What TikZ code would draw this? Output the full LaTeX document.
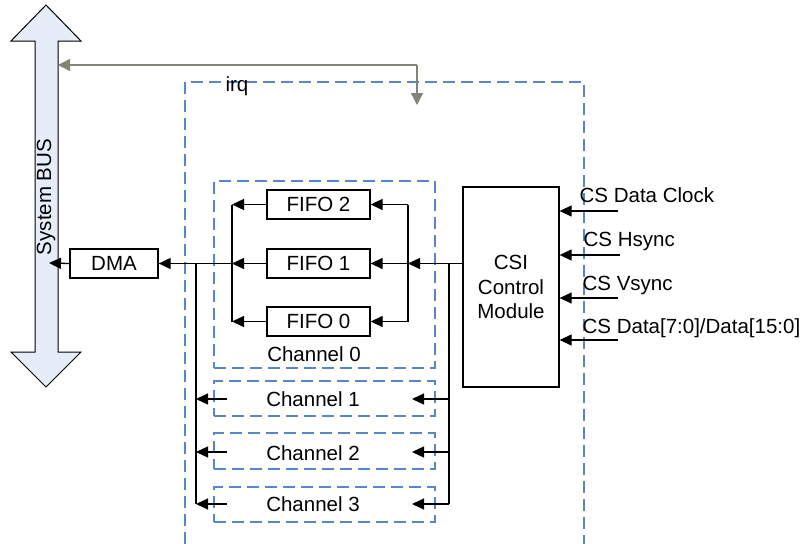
\documentclass[tikz,border=0pt]{standalone}
\usepackage{fontspec}
\setmainfont{Liberation Sans}
\usetikzlibrary{arrows.meta}
\definecolor{busfill}{HTML}{E6EDF8}
\definecolor{dashblue}{HTML}{5A86C8}
\definecolor{irqgray}{HTML}{7F8577}
\begin{document}
\begin{tikzpicture}[x=1pt,y=-1pt,
  font=\fontsize{20.5}{24}\selectfont,
  line width=1.3pt,
  every node/.style={inner sep=0pt},
  blk/.style={draw=black, line width=1.3pt, fill=white, align=center},
  dbox/.style={draw=dashblue, line width=1.3pt, dash pattern=on 12pt off 6pt},
  txt/.style={anchor=base, text height=14.7pt, text depth=0pt},
  ltxt/.style={anchor=base west, text height=14.7pt, text depth=0pt},
  arr/.style={-{Triangle[length=12pt,width=11pt]}},
  garr/.style={draw=irqgray, line width=1.3pt, -{Triangle[length=12pt,width=12pt]}}
]
\useasboundingbox (0,0) rectangle (804,544);

% System bus
\draw[fill=busfill, line width=1pt] (46,5) -- (81,41) -- (58,41) -- (58,352) -- (81,352) -- (46,387) -- (11,352) -- (35,352) -- (35,41) -- (11,41) -- cycle;
\node[rotate=90] (bustext) at (46,197) {System BUS};
\coordinate (busirq) at (58,65);
\coordinate (busin) at (49,263);

% outer dashed area
\draw[dbox] (185,544) -- (185,82) -- (584,82) -- (584,544);
\node[txt] (irq) at (237,91) {irq};

% irq connector
\coordinate (irqc) at (417,65);
\coordinate (irqend) at (417,105);
\draw[garr] (irqc) -- (busirq);
\draw[garr] (irqc) -- (irqend);

% channel boxes
\node[dbox, minimum width=221pt, minimum height=187pt] (ch0) at (324.5,274.5) {};
\node[dbox, minimum width=221pt, minimum height=35pt] (ch1) at (324.5,398.5) {};
\node[dbox, minimum width=221pt, minimum height=36pt] (ch2) at (324.5,451) {};
\node[dbox, minimum width=221pt, minimum height=35pt] (ch3) at (324.5,504.5) {};
\node[txt] (ch0l) at (314,361) {Channel 0};
\node[txt] (ch1l) at (313,406) {Channel 1};
\node[txt] (ch2l) at (313,460) {Channel 2};
\node[txt] (ch3l) at (313,511) {Channel 3};

% blocks
\node[blk, minimum width=88pt, minimum height=29pt] (dma) at (114,263.5) {DMA};
\node[blk, minimum width=103pt, minimum height=29pt] (f2) at (318.5,204.5) {FIFO 2};
\node[blk, minimum width=103pt, minimum height=29pt] (f1) at (318.5,263.5) {FIFO 1};
\node[blk, minimum width=103pt, minimum height=29pt] (f0) at (318.5,321.5) {FIFO 0};
\node[blk, minimum width=96pt, minimum height=200pt, font=\fontsize{20.5}{24.5}\selectfont] (csi) at (511,287) {CSI\\Control\\Module};

% junction coordinates
\coordinate (jl) at (232,263.5);
\coordinate (jd) at (196,263.5);
\coordinate (jf) at (408,263.5);
\coordinate (jr) at (449,263.5);
\coordinate (csiout) at (463,263.5);

% DMA to bus
\draw[arr] (dma.west) -- (busin);
\draw[arr] (jl) -- (dma.east);

% FIFO outputs
\draw[arr] (f2.west) -- (f2.west -| jl);
\draw[arr] (f1.west) -- (jl);
\draw[arr] (f0.west) -- (f0.west -| jl);
\draw (f2.west -| jl) -- (f0.west -| jl);

% FIFO inputs
\draw[arr] (csiout) -- (jf);
\draw[arr] (jf) -- (f1.east);
\draw[arr] (f2.east -| jf) -- (f2.east);
\draw[arr] (f0.east -| jf) -- (f0.east);
\draw (f2.east -| jf) -- (f0.east -| jf);

% channel 1-3 outputs
\coordinate (c1o) at (227,399);
\coordinate (c2o) at (227,452);
\coordinate (c3o) at (227,504);
\draw (jd) -- (jd |- c3o);
\draw[arr] (c1o) -- (jd |- c1o);
\draw[arr] (c2o) -- (jd |- c2o);
\draw[arr] (c3o) -- (jd |- c3o);

% channel 1-3 inputs
\coordinate (c1i) at (412,399);
\coordinate (c2i) at (412,452);
\coordinate (c3i) at (412,504);
\draw (jr) -- (jr |- c3i);
\draw[arr] (jr |- c1i) -- (c1i);
\draw[arr] (jr |- c2i) -- (c2i);
\draw[arr] (jr |- c3i) -- (c3i);

% CSI inputs
\coordinate (in1) at (618,211);
\coordinate (in2) at (620,255);
\coordinate (in3) at (618,298);
\coordinate (in4) at (618,340);
\draw[arr] (in1) -- (csi.east |- in1);
\draw[arr] (in2) -- (csi.east |- in2);
\draw[arr] (in3) -- (csi.east |- in3);
\draw[arr] (in4) -- (csi.east |- in4);
\node[ltxt] (l1) at (579,202) {CS Data Clock};
\node[ltxt] (l2) at (583,246) {CS Hsync};
\node[ltxt] (l3) at (582,290) {CS Vsync};
\node[ltxt] (l4) at (582,333) {CS Data[7:0]/Data[15:0]};
\end{tikzpicture}
\end{document}
